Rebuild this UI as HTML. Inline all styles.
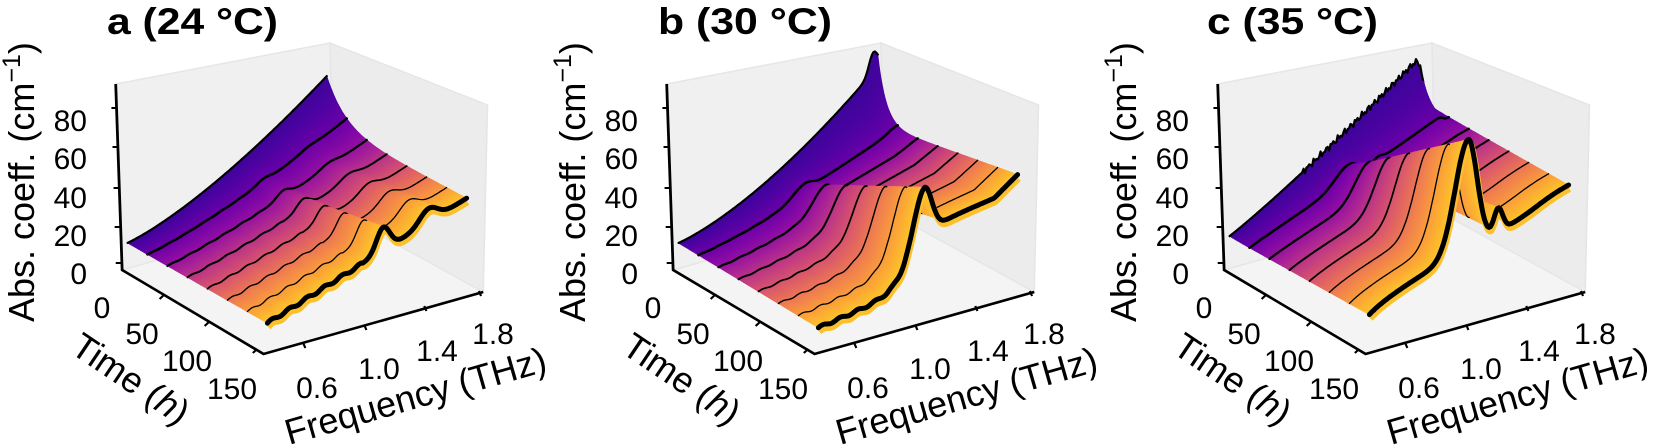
<!DOCTYPE html>
<html><head><meta charset="utf-8"><style>
html,body{margin:0;padding:0;background:#fff;}
svg{display:block;font-family:"Liberation Sans",Arial,sans-serif;}
</style></head><body>
<svg id="root" xmlns="http://www.w3.org/2000/svg" width="1654" height="448" viewBox="0 0 1654 448">
<rect width="1654" height="448" fill="#fff"/>
<defs>
<g id="box">
 <g transform="scale(1.0714,1)">
  <polygon points="114,270 246,354 451,292 312,210" fill="#f4f4f4"/>
  <polygon points="114,270 108,84 308,43 312,210" fill="#f0f0f0" stroke="#e6e6e6" stroke-width="1.5"/>
  <polygon points="312,210 308,43 455,105 451,292" fill="#ececec" stroke="#e6e6e6" stroke-width="1.5"/>
 </g>
</g>
<g id="axes">
 <g transform="scale(1.0714,1)">
  <polyline points="108,84 114,270 246,354 451,292" fill="none" stroke="#000" stroke-width="2.6"/>
  <g stroke="#000" stroke-width="2">
    <line x1="109" y1="108" x2="104" y2="108"/>
    <line x1="110" y1="147" x2="105" y2="147"/>
    <line x1="111" y1="188" x2="106" y2="188"/>
    <line x1="112" y1="227" x2="107" y2="227"/>
    <line x1="113" y1="263" x2="108" y2="263"/>
    <line x1="153" y1="295" x2="149" y2="299"/>
    <line x1="195" y1="322" x2="191" y2="326"/>
    <line x1="240" y1="349" x2="236" y2="353"/>
    <line x1="283" y1="343" x2="285" y2="348"/>
    <line x1="340" y1="325" x2="342" y2="330"/>
    <line x1="396" y1="306" x2="398" y2="311"/>
    <line x1="447" y1="291" x2="449" y2="296"/>
  </g>
 </g>
  <g font-size="30" fill="#000" text-anchor="end">
    <text x="87" y="131">80</text><text x="87" y="169">60</text><text x="87" y="208">40</text><text x="87" y="246">20</text><text x="87" y="284">0</text>
  </g>
  <g font-size="30" fill="#000" text-anchor="middle">
    <text x="102" y="318">0</text><text x="142" y="344">50</text><text x="187" y="371">100</text><text x="232" y="399">150</text>
    <text x="317" y="398">0.6</text><text x="379" y="379">1.0</text><text x="437" y="361">1.4</text><text x="493" y="344">1.8</text>
  </g>
  <text font-size="36" transform="translate(34,322) rotate(-90)">Abs. coeff. (cm<tspan font-size="25" dy="-14">−1</tspan><tspan dy="14">)</tspan></text>
  <text font-size="36" text-anchor="middle" transform="translate(124,389) rotate(34)">Time (<tspan font-style="italic">h</tspan>)</text>
  <text font-size="36" transform="translate(289,445) rotate(-16)">Frequency (THz)</text>
</g>
</defs>
<g transform="translate(0,0)"><use href="#box"/><g id="sa"></g><use href="#axes"/>
<text x="107" y="34" font-size="37" font-weight="bold" textLength="171" lengthAdjust="spacingAndGlyphs">a (24 °C)</text></g>
<g transform="translate(551,0)"><use href="#box"/><g id="sb"></g><use href="#axes"/>
<text x="107" y="34" font-size="37" font-weight="bold" textLength="174" lengthAdjust="spacingAndGlyphs">b (30 °C)</text></g>
<g transform="translate(1102,0)"><use href="#box"/><g id="sc"></g><use href="#axes"/>
<text x="105" y="34" font-size="37" font-weight="bold" textLength="171" lengthAdjust="spacingAndGlyphs">c (35 °C)</text></g>
</svg>
<script>
(function(){
var NS='http://www.w3.org/2000/svg';
var stops=['#0d0887','#41049d','#6a00a8','#8f0da4','#b12a90','#cc4778','#e16462','#f2844b','#fca636','#fcce25','#f0f921'];
function hx(c){return [parseInt(c.substr(1,2),16),parseInt(c.substr(3,2),16),parseInt(c.substr(5,2),16)];}
function plasma(v){v=Math.max(0,Math.min(1,v));var p=v*10,i=Math.min(9,Math.floor(p)),f=p-i;var a=hx(stops[i]),b=hx(stops[i+1]);
return 'rgb('+Math.round(a[0]+(b[0]-a[0])*f)+','+Math.round(a[1]+(b[1]-a[1])*f)+','+Math.round(a[2]+(b[2]-a[2])*f)+')';}
function g(f,c,w){var d=(f-c)/w;return Math.exp(-0.5*d*d);}
function ga(f,c,wl,wr){var d=(f-c)/(f<c?wl:wr);return Math.exp(-0.5*d*d);}
function sig(x){return 1/(1+Math.exp(-x));}
function X(f){return (f-0.36)/1.4;}
function P(f,t,z){return [1.0714*(109.5+0.87*t+(f-0.33)*136.7), 268+0.54*t-(f-0.33)*43.3-1.94*z];}
var models={
 sa:function(f,t){var s=t/150,x=X(f);
   var B0=11+31*Math.pow(x,1.3), D=25*Math.pow(x,1.6);
   var C1=10.8+35*x+12*g(f,1.19,0.045)+7*g(f,1.5,0.06);
   var rip=(f<1.05?0.7*Math.sin(2*Math.PI*(f-0.4)/0.12):0)*s;
   return (1-s)*B0+s*C1+D*Math.exp(-t/20)+rip;},
 sb:function(f,t){var s=t/150,x=X(f);
   var B0=11+31*Math.pow(x,1.3), D=30*Math.pow(x,1.8)+10*g(f,1.73,0.03);
   var C1=9+14*x+28*sig((f-1.02)/0.07)+26*ga(f,1.122,0.07,0.05)+7*Math.max(0,(f-1.6)/0.16);
   var rip=(f<1.0?0.6*Math.sin(2*Math.PI*(f-0.4)/0.12):0)*s;
   return (1-s)*B0+s*C1+D*Math.exp(-t/9)+rip;},
 sc:function(f,t){var s=t/150,x=X(f);
   var B0=13.5+38*x;
   var D=30*Math.pow(x,1.3)*(1-sig((f-1.72)/0.012));
   var C1=12+35*Math.pow(x,0.6)+56*ga(f,1.075,0.09,0.06)+12*g(f,1.28,0.03)+6*sig((f-1.55)/0.08);
   var n=(f>0.9?2*Math.sin(f*211)*Math.sin(f*57):0)*Math.exp(-t/6);
   return (1-s)*B0+s*C1+D*Math.exp(-t/10)+n;}
};
var widths=[2.2,2.6,2.3,2,1.7,1.4,1.3,5];
var NF=140,NI=12,NT=7*NI;
function curve(m,t){var pts=[];for(var j=0;j<=NF;j++){var f=0.40+1.36*j/NF;pts.push(P(f,t,m(f,t)));}return pts;}
function str(pts){return pts.map(function(p){return p[0].toFixed(1)+','+p[1].toFixed(1);}).join(' ');}
function el(g,n,a){var e=document.createElementNS(NS,n);for(var k in a)e.setAttribute(k,a[k]);g.appendChild(e);return e;}
function line(g,m,k){var t=150*k/7;var pts=curve(m,t);
  if(k==7){el(g,'polyline',{points:str(pts.map(function(p){return [p[0]+1,p[1]+4];})),fill:'none',stroke:'#fcc02a','stroke-width':6,'stroke-linejoin':'round'});}
  el(g,'polyline',{points:str(pts),fill:'none',stroke:'#000','stroke-width':widths[k],'stroke-linejoin':'round','stroke-linecap':'round'});}
['sa','sb','sc'].forEach(function(id){
  var g=document.getElementById(id),m=models[id];
  var prev=curve(m,0);
  for(var i=0;i<NT;i++){
    var s1=(i+1)/NT,cur=curve(m,150*s1);
    var col=plasma(0.09+0.79*(i+0.5)/NT);
    el(g,'polygon',{points:str(prev.concat(cur.slice().reverse())),fill:col,stroke:col,'stroke-width':0.8});
    prev=cur;
    if(i%NI==1){var k=(i-1)/NI; line(g,m,k);}
  }
  line(g,m,7);
});
})();
</script>
</body></html>
